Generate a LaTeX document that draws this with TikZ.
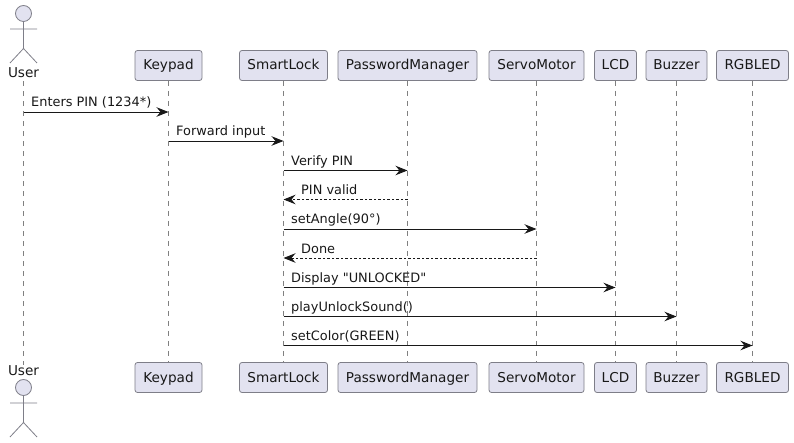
\documentclass[tikz,border=0pt]{standalone}
\usepackage{fontspec}
\setmainfont{DejaVu Sans}
\newfontfamily\plainquote{DejaVu Sans}
\usetikzlibrary{arrows.meta}
\definecolor{partfill}{HTML}{E2E2F0}
\definecolor{partline}{HTML}{7E7E88}
\definecolor{lifegray}{HTML}{808080}
\definecolor{ink}{HTML}{181818}
\tikzset{
  part/.style={draw=partline,fill=partfill,rounded corners=2.5pt,line width=0.8pt,minimum height=30pt,inner sep=0pt,text=ink,text height=12pt,text depth=3pt,font=\fontsize{13.6}{16}\selectfont},
  actorlabel/.style={inner sep=0pt,anchor=base,text height=10pt,text depth=3pt,text=ink,font=\fontsize{13.6}{16}\selectfont},
  actorshape/.style={draw=partline,line width=0.8pt},
  life/.style={draw=lifegray,line width=0.7pt,dash pattern=on 5pt off 5pt},
  msg/.style={draw=ink,line width=0.9pt,-{Stealth[length=12pt,width=9.5pt,inset=4pt]}},
  ret/.style={msg,dash pattern=on 2.5pt off 2pt},
  lbl/.style={inner sep=0pt,anchor=base west,text=ink,font=\fontsize{12.9}{15}\selectfont}
}
\begin{document}
\begin{tikzpicture}[x=1pt,y=-1pt]
\useasboundingbox (0,0) rectangle (794,443);
% actors
\node[actorlabel] (user) at (23.5,78) {User};
\node[actorlabel] (userb) at (23.5,375) {User};
\node[part,minimum width=67pt] (kp) at (168.5,65.5) {Keypad};
\node[part,minimum width=88pt] (sl) at (283.5,65.5) {SmartLock};
\node[part,minimum width=139pt] (pm) at (407.5,65.5) {PasswordManager};
\node[part,minimum width=95pt] (sm) at (536.5,65.5) {ServoMotor};
\node[part,minimum width=42pt] (lcd) at (615.5,65.5) {LCD};
\node[part,minimum width=61pt] (bz) at (676.5,65.5) {Buzzer};
\node[part,minimum width=72pt] (rgb) at (752.5,65.5) {RGBLED};
\node[part,minimum width=67pt] (kpb) at (168.5,377.5) {Keypad};
\node[part,minimum width=88pt] (slb) at (283.5,377.5) {SmartLock};
\node[part,minimum width=139pt] (pmb) at (407.5,377.5) {PasswordManager};
\node[part,minimum width=95pt] (smb) at (536.5,377.5) {ServoMotor};
\node[part,minimum width=42pt] (lcdb) at (615.5,377.5) {LCD};
\node[part,minimum width=61pt] (bzb) at (676.5,377.5) {Buzzer};
\node[part,minimum width=72pt] (rgbb) at (752.5,377.5) {RGBLED};
% lifelines
\draw[life] (user.south) -- (userb.north);
\draw[life] (kp.south) -- (kpb.north);
\draw[life] (sl.south) -- (slb.north);
\draw[life] (pm.south) -- (pmb.north);
\draw[life] (sm.south) -- (smb.north);
\draw[life] (lcd.south) -- (lcdb.north);
\draw[life] (bz.south) -- (bzb.north);
\draw[life] (rgb.south) -- (rgbb.north);
% actor figures
\draw[actorshape,fill=partfill] (23.5,13.5) circle (8pt);
\draw[actorshape] (23.5,21.5) -- (23.5,48.5) (10,29) -- (37,29) (10,63) -- (23.5,48.5) -- (37,63);
\draw[actorshape,fill=partfill] (23.5,387.5) circle (8pt);
\draw[actorshape] (23.5,395.5) -- (23.5,422.5) (10,403) -- (37,403) (10,437) -- (23.5,422.5) -- (37,437);
% messages
\draw[msg] (user |- 0,112) -- (kp |- 0,112);
\node[lbl] (l1) at (31,107) {Enters PIN (1234*)};
\draw[msg] (kp |- 0,141) -- (sl |- 0,141);
\node[lbl] (l2) at (176,136) {Forward input};
\draw[msg] (sl |- 0,170.5) -- (pm |- 0,170.5);
\node[lbl] (l3) at (291,166) {Verify PIN};
\draw[ret] (pm |- 0,199.5) -- (sl |- 0,199.5);
\node[lbl] (l4) at (301,195) {PIN valid};
\draw[msg] (sl |- 0,229) -- (sm |- 0,229);
\node[lbl] (l5) at (291,224) {setAngle(90°)};
\draw[ret] (sm |- 0,258) -- (sl |- 0,258);
\node[lbl] (l6) at (301,253.3) {Done};
\draw[msg] (sl |- 0,287.5) -- (lcd |- 0,287.5);
\node[lbl] (l7) at (291,282.5) {\plainquote Display "UNLOCKED"};
\draw[msg] (sl |- 0,316.5) -- (bz |- 0,316.5);
\node[lbl] (l8) at (291,311.5) {playUnlockSound()};
\draw[msg] (sl |- 0,345.5) -- (rgb |- 0,345.5);
\node[lbl] (l9) at (291,340.5) {setColor(GREEN)};
\end{tikzpicture}
\end{document}
